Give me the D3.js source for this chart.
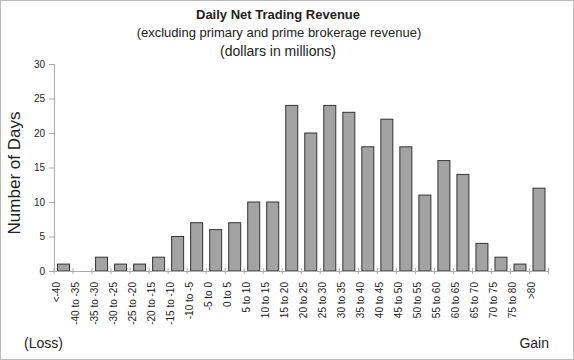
<!DOCTYPE html>
<html><head><meta charset="utf-8">
<script src="https://cdn.jsdelivr.net/npm/d3@7"></script>
<style>body{margin:0;background:#fff}svg{display:block}text{font-family:"Liberation Sans",Arial,sans-serif;fill:#222}</style>
</head><body>
<script>
const categories = ["<-40","-40 to -35","-35 to -30","-30 to -25","-25 to -20","-20 to -15","-15 to -10","-10 to -5","-5 to 0","0 to 5","5 to 10","10 to 15","15 to 20","20 to 25","25 to 30","30 to 35","35 to 40","40 to 45","45 to 50","50 to 55","55 to 60","60 to 65","65 to 70","70 to 75","75 to 80",">80"];
const days = [1,0,2,1,1,2,5,7,6,7,10,10,24,20,24,23,18,22,18,11,16,14,4,2,1,12];
const yTicks = [0,5,10,15,20,25,30];

const W=574,H=360;
const svg=d3.select("body").append("svg").attr("width",W).attr("height",H);
svg.append("rect").attr("x",0.5).attr("y",0.5).attr("width",W-1).attr("height",H-1).attr("fill","none").attr("stroke","#bbb");

const x=d3.scaleBand().domain(categories).range([54,548.5]).paddingInner(0.37).paddingOuter(0.185);
const y=d3.scaleLinear().domain([0,30]).range([271,64]);

svg.append("text").attr("x",278).attr("y",19).attr("text-anchor","middle").attr("font-weight","bold").attr("font-size",13).text("Daily Net Trading Revenue");
svg.append("text").attr("x",279).attr("y",37).attr("text-anchor","middle").attr("font-size",13).text("(excluding primary and prime brokerage revenue)");
svg.append("text").attr("x",278).attr("y",56).attr("text-anchor","middle").attr("font-size",14).text("(dollars in millions)");

// y axis
const ya=svg.append("g").attr("transform","translate(54,0)").call(d3.axisLeft(y).tickValues(yTicks).tickSize(5).tickPadding(4));
ya.select(".domain").attr("stroke","#aaa");
ya.selectAll(".tick line").attr("stroke","#aaa");
ya.selectAll("text").attr("font-size",10).attr("fill","#222").style("font-family","Liberation Sans, Arial, sans-serif");

// bars
svg.append("g").selectAll("rect").data(categories).join("rect")
 .attr("x",d=>x(d)).attr("width",x.bandwidth())
 .attr("y",(d,i)=>y(days[i])).attr("height",(d,i)=>y(0)-y(days[i]))
 .attr("fill","#a3a3a3").attr("stroke","#333").attr("stroke-width",1)
 .attr("display",(d,i)=>days[i]===0?"none":null);

// x axis
const xa=svg.append("g").attr("transform","translate(0,271)").call(d3.axisBottom(x).tickSize(0).tickPadding(0));
xa.select(".domain").attr("stroke","#aaa");
xa.selectAll("text").attr("font-size",10).attr("fill","#222").style("font-family","Liberation Sans, Arial, sans-serif")
 .attr("text-anchor","end").attr("transform","translate(-3.5,11) rotate(-90)").attr("dy","0").attr("y",0).attr("x",0);
// tick marks at band boundaries
const step=x.step();
const bounds=categories.map(c=>x(c)-x.paddingInner()*step/2).concat([548.5]);
svg.append("g").selectAll("line").data(bounds).join("line")
 .attr("x1",d=>d).attr("x2",d=>d).attr("y1",268).attr("y2",274).attr("stroke","#aaa");

svg.append("text").attr("transform","translate(20,173) rotate(-90)").attr("text-anchor","middle").attr("font-size",17).text("Number of Days");
svg.append("text").attr("x",24).attr("y",348).attr("font-size",14).text("(Loss)");
svg.append("text").attr("x",549).attr("y",348).attr("text-anchor","end").attr("font-size",14).text("Gain");
</script>
</body></html>
